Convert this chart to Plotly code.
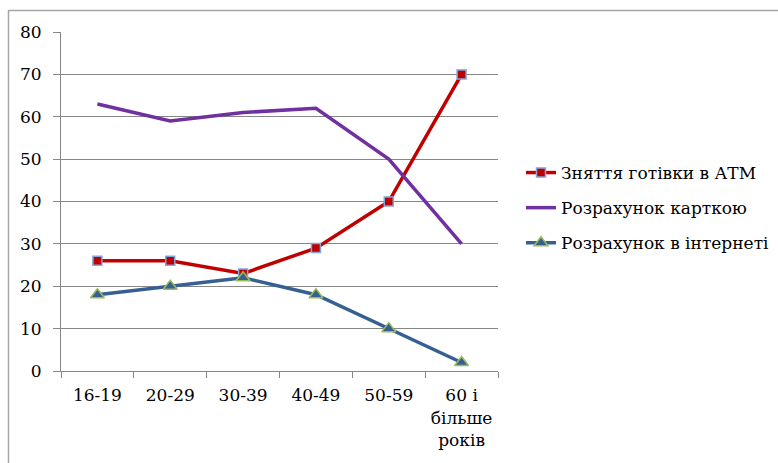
import plotly.graph_objects as go

categories = ["16-19", "20-29", "30-39", "40-49", "50-59", "60 і<br>більше<br>років"]
atm = [26, 26, 23, 29, 40, 70]
card = [63, 59, 61, 62, 50, 30]
internet = [18, 20, 22, 18, 10, 2]
names = ["Зняття готівки в АТМ", "Розрахунок карткою", "Розрахунок в інтернеті"]
y_ticks = [0, 10, 20, 30, 40, 50, 60, 70, 80]

W, H = 778, 463
L, R, T, B = 61, 498, 32, 371
FONT = "DejaVu Serif"

fig = go.Figure()
fig.add_trace(go.Scatter(
    x=categories, y=atm, name=names[0], mode="lines+markers", legendgroup="a",
    line=dict(color="#C00000", width=3.5),
    marker=dict(symbol="square", size=9, color="#C00000", line=dict(color="#7FA7D9", width=1.5)),
))
fig.add_trace(go.Scatter(
    x=categories, y=card, name=names[1], mode="lines", legendgroup="b",
    line=dict(color="#7030A0", width=3.5),
))
fig.add_trace(go.Scatter(
    x=categories, y=internet, name=names[2], mode="lines+markers", legendgroup="c",
    line=dict(color="#376092", width=3.5),
    marker=dict(symbol="triangle-up", size=12, color="#376092", line=dict(color="#9BBB59", width=1.5)),
))

pw, ph = R - L, B - T
def px(x):
    return (x - L) / pw
def py(y):
    return (B - y) / ph

fig.update_layout(
    width=W, height=H,
    margin=dict(l=L, r=W - R, t=T, b=H - B, autoexpand=False),
    paper_bgcolor="white", plot_bgcolor="white",
    font=dict(family=FONT, size=17, color="#000000"),
    showlegend=True,
    legend=dict(x=px(521), y=py(208), yanchor="middle", xanchor="left",
                traceorder="grouped", tracegroupgap=10,
                font=dict(family=FONT, size=17), bgcolor="rgba(0,0,0,0)", itemwidth=30),
    xaxis=dict(type="category", tickson="boundaries", ticks="outside", ticklen=6,
               tickcolor="#868686", showline=True, linecolor="#868686", linewidth=1,
               showgrid=False, tickfont=dict(family=FONT, size=17), range=[-0.5, 5.5],
               ticklabelstandoff=9),
    yaxis=dict(range=[0, 80], tickvals=y_ticks, ticks="outside", ticklen=7,
               tickcolor="#868686", showline=True, linecolor="#868686", linewidth=1,
               showgrid=True, gridcolor="#868686", gridwidth=1, zeroline=False,
               tickfont=dict(family=FONT, size=17), ticklabelstandoff=8),
    shapes=[dict(type="rect", xref="paper", yref="paper",
                 x0=px(8.5), x1=px(790), y0=py(475), y1=py(10.5),
                 line=dict(color="#A6A6A6", width=1.5), fillcolor="rgba(0,0,0,0)", layer="below")],
)

fig.write_html("out.html")
